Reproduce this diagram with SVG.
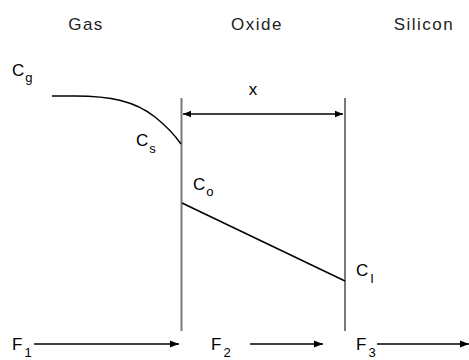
<svg xmlns="http://www.w3.org/2000/svg" width="469" height="360" viewBox="0 0 469 360">
<defs>
<style>
text{font-family:"Liberation Sans",Arial,sans-serif;fill:#000}
.h{font-size:17px;letter-spacing:1.5px;fill:#222}
.l{font-size:17px}
.s{font-size:13px}
.wall{stroke:#7a7a7a;stroke-width:2;fill:none}
.prof{stroke:#000;stroke-width:1.5;fill:none}
.arr{stroke:#000;stroke-width:1.3;fill:none}
</style>
<marker id="ah" viewBox="0 0 10 10" refX="10" refY="5" markerWidth="10" markerHeight="9" markerUnits="userSpaceOnUse" orient="auto">
<path d="M0,1 L10,5 L0,9 z" fill="#000"/>
</marker>
<marker id="at" viewBox="0 0 10 10" refX="10" refY="5" markerWidth="8" markerHeight="8" markerUnits="userSpaceOnUse" orient="auto-start-reverse">
<path d="M0,1 L10,5 L0,9 z" fill="#000"/>
</marker>
</defs>
<rect width="469" height="360" fill="#fff"/>
<g id="headers">
<text class="h" x="86" y="30" text-anchor="middle">Gas</text>
<text class="h" x="257" y="30" text-anchor="middle">Oxide</text>
<text class="h" x="424" y="30" text-anchor="middle">Silicon</text>
</g>
<g id="walls">
<line class="wall" x1="181.5" y1="98" x2="181.5" y2="331"/>
<line class="wall" x1="345" y1="98" x2="345" y2="331"/>
</g>
<g id="thickness">
<line class="arr" x1="183" y1="114" x2="343" y2="114" marker-start="url(#at)" marker-end="url(#at)"/>
<text class="l" x="253" y="95" text-anchor="middle">x</text>
</g>
<g id="profiles">
<path class="prof" d="M52,96 L75,96 C110,96 135,101 155,117 C165,125 174,134 181,144"/>
<line class="prof" x1="182" y1="203" x2="345" y2="281"/>
</g>
<g id="labels">
<text class="l" x="12" y="76">C<tspan class="s" dx="1" dy="6">g</tspan></text>
<text class="l" x="136" y="146">C<tspan class="s" dx="1" dy="7">s</tspan></text>
<text class="l" x="193" y="190">C<tspan class="s" dx="1" dy="6">o</tspan></text>
<text class="l" x="356" y="276">C<tspan class="s" dx="2" dy="7">I</tspan></text>
</g>
<g id="connectors">
<line class="arr" x1="34" y1="344" x2="179" y2="344" marker-end="url(#ah)"/>
<line class="arr" x1="250" y1="344" x2="323" y2="344" marker-end="url(#ah)"/>
<line class="arr" x1="377" y1="344" x2="469" y2="344" marker-end="url(#ah)"/>
</g>
<g id="fluxes">
<text class="l" x="12" y="350">F<tspan class="s" dx="2" dy="7">1</tspan></text>
<text class="l" x="211" y="350">F<tspan class="s" dx="2" dy="7">2</tspan></text>
<text class="l" x="356" y="350">F<tspan class="s" dx="2" dy="7">3</tspan></text>
</g>
</svg>
